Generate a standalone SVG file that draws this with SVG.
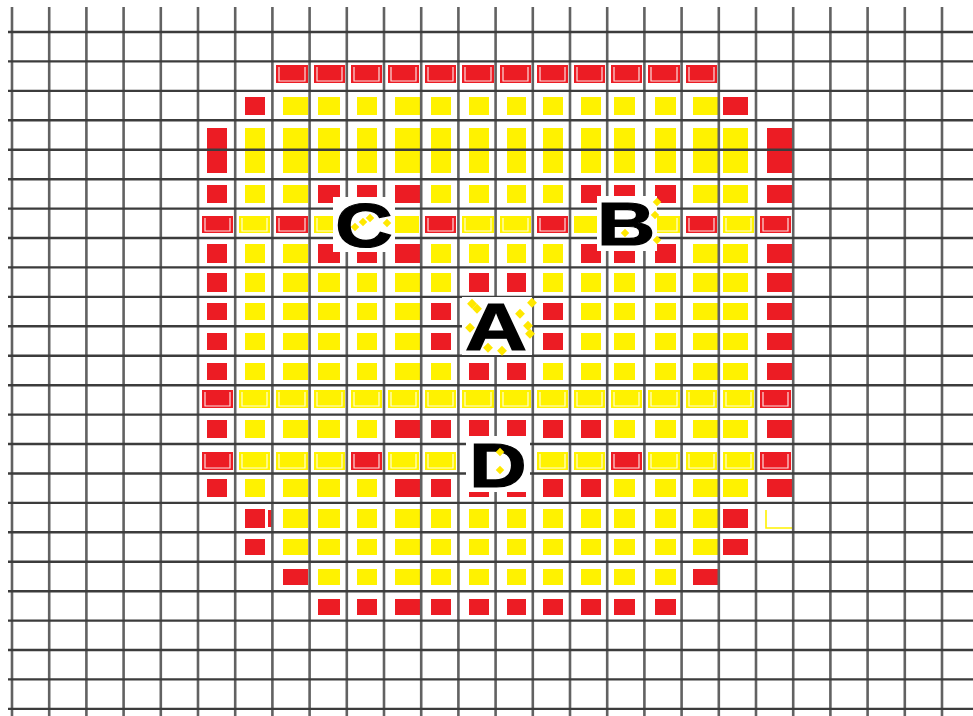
<svg xmlns="http://www.w3.org/2000/svg" width="973" height="716" viewBox="0 0 973 716">
<style>
.r{fill:#ec1c24}
.y{fill:#fff200}
.br{fill:none;stroke:#ffffff;stroke-width:1.2;opacity:0.85}
.gv{fill:none;stroke:#626262;stroke-width:2.6}
.gh{fill:none;stroke:#3c3c3c;stroke-width:2.4}
.lbl{font-family:"Liberation Sans",Arial,sans-serif;font-weight:bold;fill:#000;stroke:#000;stroke-width:1.2;text-anchor:middle}
.dm{fill:#ffe800}
</style>
<rect width="973" height="716" fill="#ffffff"/>
<g id="cells">
<g id="row1" transform="translate(0,65)">
<rect class="r" x="276" width="32" height="18"/><rect class="r" x="314" width="31" height="18"/><rect class="r" x="351" width="31" height="18"/><rect class="r" x="388" width="31" height="18"/><rect class="r" x="425" width="31" height="18"/><rect class="r" x="462" width="32" height="18"/><rect class="r" x="500" width="31" height="18"/><rect class="r" x="537" width="31" height="18"/><rect class="r" x="574" width="31" height="18"/><rect class="r" x="611" width="31" height="18"/><rect class="r" x="648" width="32" height="18"/><rect class="r" x="686" width="31" height="18"/>
<path class="br" d="M279,2V16H305V2M317,2V16H342V2M354,2V16H379V2M391,2V16H416V2M428,2V16H453V2M465,2V16H491V2M503,2V16H528V2M540,2V16H565V2M577,2V16H602V2M614,2V16H639V2M651,2V16H677V2M689,2V16H714V2"/>
</g>
<g id="row2" transform="translate(0,97)">
<rect class="r" x="245" width="20" height="18"/><rect class="y" x="283" width="25" height="18"/><rect class="y" x="318" width="22" height="18"/><rect class="y" x="357" width="20" height="18"/><rect class="y" x="395" width="25" height="18"/><rect class="y" x="431" width="20" height="18"/><rect class="y" x="469" width="20" height="18"/><rect class="y" x="507" width="19" height="18"/><rect class="y" x="543" width="20" height="18"/><rect class="y" x="581" width="20" height="18"/><rect class="y" x="614" width="21" height="18"/><rect class="y" x="655" width="21" height="18"/><rect class="y" x="693" width="25" height="18"/><rect class="r" x="723" width="25" height="18"/>
</g>
<g id="row3" transform="translate(0,128)">
<rect class="r" x="207" width="20" height="45"/><rect class="y" x="245" width="20" height="45"/><rect class="y" x="283" width="25" height="45"/><rect class="y" x="318" width="22" height="45"/><rect class="y" x="357" width="20" height="45"/><rect class="y" x="395" width="25" height="45"/><rect class="y" x="431" width="20" height="45"/><rect class="y" x="469" width="20" height="45"/><rect class="y" x="507" width="19" height="45"/><rect class="y" x="543" width="20" height="45"/><rect class="y" x="581" width="20" height="45"/><rect class="y" x="614" width="21" height="45"/><rect class="y" x="655" width="21" height="45"/><rect class="y" x="693" width="25" height="45"/><rect class="y" x="723" width="25" height="45"/><rect class="r" x="767" width="25" height="45"/>
</g>
<g id="row5" transform="translate(0,185)">
<rect class="r" x="207" width="20" height="18"/><rect class="y" x="245" width="20" height="18"/><rect class="y" x="283" width="25" height="18"/><rect class="r" x="318" width="22" height="18"/><rect class="r" x="357" width="20" height="18"/><rect class="r" x="395" width="25" height="18"/><rect class="y" x="431" width="20" height="18"/><rect class="y" x="469" width="20" height="18"/><rect class="y" x="507" width="19" height="18"/><rect class="y" x="543" width="20" height="18"/><rect class="r" x="581" width="20" height="18"/><rect class="r" x="614" width="21" height="18"/><rect class="r" x="655" width="21" height="18"/><rect class="y" x="693" width="25" height="18"/><rect class="y" x="723" width="25" height="18"/><rect class="r" x="767" width="25" height="18"/>
</g>
<g id="row6" transform="translate(0,216)">
<rect class="r" x="202" width="31" height="17"/><rect class="y" x="239" width="31" height="17"/><rect class="r" x="276" width="32" height="17"/><rect class="y" x="314" width="31" height="17"/><rect class="y" x="351" width="31" height="17"/><rect class="y" x="388" width="31" height="17"/><rect class="r" x="425" width="31" height="17"/><rect class="y" x="462" width="32" height="17"/><rect class="y" x="500" width="31" height="17"/><rect class="r" x="537" width="31" height="17"/><rect class="y" x="574" width="31" height="17"/><rect class="y" x="611" width="31" height="17"/><rect class="y" x="648" width="32" height="17"/><rect class="r" x="686" width="31" height="17"/><rect class="y" x="723" width="31" height="17"/><rect class="r" x="760" width="31" height="17"/>
<path class="br" d="M205,2V15H230V2M242,2V15H267V2M279,2V15H305V2M317,2V15H342V2M428,2V15H453V2M465,2V15H491V2M503,2V15H528V2M540,2V15H565V2M651,2V15H677V2M689,2V15H714V2M726,2V15H751V2M763,2V15H788V2"/>
</g>
<g id="row7" transform="translate(0,244)">
<rect class="r" x="207" width="20" height="19"/><rect class="y" x="245" width="20" height="19"/><rect class="y" x="283" width="25" height="19"/><rect class="r" x="318" width="22" height="19"/><rect class="r" x="357" width="20" height="19"/><rect class="r" x="395" width="25" height="19"/><rect class="y" x="431" width="20" height="19"/><rect class="y" x="469" width="20" height="19"/><rect class="y" x="507" width="19" height="19"/><rect class="y" x="543" width="20" height="19"/><rect class="r" x="581" width="20" height="19"/><rect class="r" x="614" width="21" height="19"/><rect class="r" x="655" width="21" height="19"/><rect class="y" x="693" width="25" height="19"/><rect class="y" x="723" width="25" height="19"/><rect class="r" x="767" width="25" height="19"/>
</g>
<g id="row8" transform="translate(0,273)">
<rect class="r" x="207" width="20" height="19"/><rect class="y" x="245" width="20" height="19"/><rect class="y" x="283" width="25" height="19"/><rect class="y" x="318" width="22" height="19"/><rect class="y" x="357" width="20" height="19"/><rect class="y" x="395" width="25" height="19"/><rect class="y" x="431" width="20" height="19"/><rect class="r" x="469" width="20" height="19"/><rect class="r" x="507" width="19" height="19"/><rect class="y" x="543" width="20" height="19"/><rect class="y" x="581" width="20" height="19"/><rect class="y" x="614" width="21" height="19"/><rect class="y" x="655" width="21" height="19"/><rect class="y" x="693" width="25" height="19"/><rect class="y" x="723" width="25" height="19"/><rect class="r" x="767" width="25" height="19"/>
</g>
<g id="row9" transform="translate(0,303)">
<rect class="r" x="207" width="20" height="17"/><rect class="y" x="245" width="20" height="17"/><rect class="y" x="283" width="25" height="17"/><rect class="y" x="318" width="22" height="17"/><rect class="y" x="357" width="20" height="17"/><rect class="y" x="395" width="25" height="17"/><rect class="r" x="431" width="20" height="17"/><rect class="r" x="543" width="20" height="17"/><rect class="y" x="581" width="20" height="17"/><rect class="y" x="614" width="21" height="17"/><rect class="y" x="655" width="21" height="17"/><rect class="y" x="693" width="25" height="17"/><rect class="y" x="723" width="25" height="17"/><rect class="r" x="767" width="25" height="17"/>
</g>
<g id="row10" transform="translate(0,333)">
<rect class="r" x="207" width="20" height="17"/><rect class="y" x="245" width="20" height="17"/><rect class="y" x="283" width="25" height="17"/><rect class="y" x="318" width="22" height="17"/><rect class="y" x="357" width="20" height="17"/><rect class="y" x="395" width="25" height="17"/><rect class="r" x="431" width="20" height="17"/><rect class="r" x="543" width="20" height="17"/><rect class="y" x="581" width="20" height="17"/><rect class="y" x="614" width="21" height="17"/><rect class="y" x="655" width="21" height="17"/><rect class="y" x="693" width="25" height="17"/><rect class="y" x="723" width="25" height="17"/><rect class="r" x="767" width="25" height="17"/>
</g>
<g id="row11" transform="translate(0,363)">
<rect class="r" x="207" width="20" height="17"/><rect class="y" x="245" width="20" height="17"/><rect class="y" x="283" width="25" height="17"/><rect class="y" x="318" width="22" height="17"/><rect class="y" x="357" width="20" height="17"/><rect class="y" x="395" width="25" height="17"/><rect class="y" x="431" width="20" height="17"/><rect class="r" x="469" width="20" height="17"/><rect class="r" x="507" width="19" height="17"/><rect class="y" x="543" width="20" height="17"/><rect class="y" x="581" width="20" height="17"/><rect class="y" x="614" width="21" height="17"/><rect class="y" x="655" width="21" height="17"/><rect class="y" x="693" width="25" height="17"/><rect class="y" x="723" width="25" height="17"/><rect class="r" x="767" width="25" height="17"/>
</g>
<g id="row12" transform="translate(0,390)">
<rect class="r" x="202" width="31" height="18"/><rect class="y" x="239" width="31" height="18"/><rect class="y" x="276" width="32" height="18"/><rect class="y" x="314" width="31" height="18"/><rect class="y" x="351" width="31" height="18"/><rect class="y" x="388" width="31" height="18"/><rect class="y" x="425" width="31" height="18"/><rect class="y" x="462" width="32" height="18"/><rect class="y" x="500" width="31" height="18"/><rect class="y" x="537" width="31" height="18"/><rect class="y" x="574" width="31" height="18"/><rect class="y" x="611" width="31" height="18"/><rect class="y" x="648" width="32" height="18"/><rect class="y" x="686" width="31" height="18"/><rect class="y" x="723" width="31" height="18"/><rect class="r" x="760" width="31" height="18"/>
<path class="br" d="M205,2V16H230V2M242,2V16H267V2M279,2V16H305V2M317,2V16H342V2M354,2V16H379V2M391,2V16H416V2M428,2V16H453V2M465,2V16H491V2M503,2V16H528V2M540,2V16H565V2M577,2V16H602V2M614,2V16H639V2M651,2V16H677V2M689,2V16H714V2M726,2V16H751V2M763,2V16H788V2"/>
</g>
<g id="row13" transform="translate(0,420)">
<rect class="r" x="207" width="20" height="18"/><rect class="y" x="245" width="20" height="18"/><rect class="y" x="283" width="25" height="18"/><rect class="y" x="318" width="22" height="18"/><rect class="y" x="357" width="20" height="18"/><rect class="r" x="395" width="25" height="18"/><rect class="r" x="431" width="20" height="18"/><rect class="r" x="469" width="20" height="18"/><rect class="r" x="507" width="19" height="18"/><rect class="r" x="543" width="20" height="18"/><rect class="r" x="581" width="20" height="18"/><rect class="y" x="614" width="21" height="18"/><rect class="y" x="655" width="21" height="18"/><rect class="y" x="693" width="25" height="18"/><rect class="y" x="723" width="25" height="18"/><rect class="r" x="767" width="25" height="18"/>
</g>
<g id="row14" transform="translate(0,452)">
<rect class="r" x="202" width="31" height="18"/><rect class="y" x="239" width="31" height="18"/><rect class="y" x="276" width="32" height="18"/><rect class="y" x="314" width="31" height="18"/><rect class="r" x="351" width="31" height="18"/><rect class="y" x="388" width="31" height="18"/><rect class="y" x="425" width="31" height="18"/><rect class="y" x="537" width="31" height="18"/><rect class="y" x="574" width="31" height="18"/><rect class="r" x="611" width="31" height="18"/><rect class="y" x="648" width="32" height="18"/><rect class="y" x="686" width="31" height="18"/><rect class="y" x="723" width="31" height="18"/><rect class="r" x="760" width="31" height="18"/>
<path class="br" d="M205,2V16H230V2M242,2V16H267V2M279,2V16H305V2M317,2V16H342V2M354,2V16H379V2M391,2V16H416V2M428,2V16H453V2M540,2V16H565V2M577,2V16H602V2M614,2V16H639V2M651,2V16H677V2M689,2V16H714V2M726,2V16H751V2M763,2V16H788V2"/>
</g>
<g id="row15" transform="translate(0,479)">
<rect class="r" x="207" width="20" height="18"/><rect class="y" x="245" width="20" height="18"/><rect class="y" x="283" width="25" height="18"/><rect class="y" x="318" width="22" height="18"/><rect class="y" x="357" width="20" height="18"/><rect class="r" x="395" width="25" height="18"/><rect class="r" x="431" width="20" height="18"/><rect class="r" x="469" width="20" height="18"/><rect class="r" x="507" width="19" height="18"/><rect class="r" x="543" width="20" height="18"/><rect class="r" x="581" width="20" height="18"/><rect class="y" x="614" width="21" height="18"/><rect class="y" x="655" width="21" height="18"/><rect class="y" x="693" width="25" height="18"/><rect class="y" x="723" width="25" height="18"/><rect class="r" x="767" width="25" height="18"/>
</g>
<g id="row16" transform="translate(0,509)">
<rect class="r" x="245" width="20" height="19"/><rect class="r" x="268" y="1" width="5" height="17"/><rect class="y" x="283" width="25" height="19"/><rect class="y" x="318" width="22" height="19"/><rect class="y" x="357" width="20" height="19"/><rect class="y" x="395" width="25" height="19"/><rect class="y" x="431" width="20" height="19"/><rect class="y" x="469" width="20" height="19"/><rect class="y" x="507" width="19" height="19"/><rect class="y" x="543" width="20" height="19"/><rect class="y" x="581" width="20" height="19"/><rect class="y" x="614" width="21" height="19"/><rect class="y" x="655" width="21" height="19"/><rect class="y" x="693" width="25" height="19"/><rect class="r" x="723" width="25" height="19"/>
<path d="M766,1V19H792" fill="none" stroke="#fff200" stroke-width="1.6"/>
</g>
<g id="row17" transform="translate(0,539)">
<rect class="r" x="245" width="20" height="16"/><rect class="y" x="283" width="25" height="16"/><rect class="y" x="318" width="22" height="16"/><rect class="y" x="357" width="20" height="16"/><rect class="y" x="395" width="25" height="16"/><rect class="y" x="431" width="20" height="16"/><rect class="y" x="469" width="20" height="16"/><rect class="y" x="507" width="19" height="16"/><rect class="y" x="543" width="20" height="16"/><rect class="y" x="581" width="20" height="16"/><rect class="y" x="614" width="21" height="16"/><rect class="y" x="655" width="21" height="16"/><rect class="y" x="693" width="25" height="16"/><rect class="r" x="723" width="25" height="16"/>
</g>
<g id="row18" transform="translate(0,569)">
<rect class="r" x="283" width="25" height="16"/><rect class="y" x="318" width="22" height="16"/><rect class="y" x="357" width="20" height="16"/><rect class="y" x="395" width="25" height="16"/><rect class="y" x="431" width="20" height="16"/><rect class="y" x="469" width="20" height="16"/><rect class="y" x="507" width="19" height="16"/><rect class="y" x="543" width="20" height="16"/><rect class="y" x="581" width="20" height="16"/><rect class="y" x="614" width="21" height="16"/><rect class="y" x="655" width="21" height="16"/><rect class="r" x="693" width="25" height="16"/>
</g>
<g id="row19" transform="translate(0,599)">
<rect class="r" x="318" width="22" height="16"/><rect class="r" x="357" width="20" height="16"/><rect class="r" x="395" width="25" height="16"/><rect class="r" x="431" width="20" height="16"/><rect class="r" x="469" width="20" height="16"/><rect class="r" x="507" width="19" height="16"/><rect class="r" x="543" width="20" height="16"/><rect class="r" x="581" width="20" height="16"/><rect class="r" x="614" width="21" height="16"/><rect class="r" x="655" width="21" height="16"/>
</g>
</g>
<g id="grid">
<path class="gv" d="M12,7V716M49.2,7V716M86.4,7V716M123.6,7V716M160.8,7V716M198,7V716M235.2,7V716M272.4,7V716M309.6,7V716M346.8,7V716M384,7V716M421.2,7V716M458.4,7V716M495.6,7V716M532.8,7V716M570,7V716M607.2,7V716M644.4,7V716M681.6,7V716M718.8,7V716M756,7V716M793.2,7V716M830.4,7V716M867.6,7V716M904.8,7V716M942,7V716"/>
<path class="gh" d="M8,32H973M8,61.4H973M8,90.9H973M8,120.3H973M8,149.7H973M8,179.2H973M8,208.6H973M8,238H973M8,267.4H973M8,296.9H973M8,326.3H973M8,355.7H973M8,385.2H973M8,414.6H973M8,444H973M8,473.5H973M8,502.9H973M8,532.3H973M8,561.7H973M8,591.2H973M8,620.6H973M8,650H973M8,679.4H973M8,708.9H973"/>
</g>
<g id="label-C">
<rect x="333" y="197" width="62" height="55" fill="#ffffff"/>
<text class="lbl" font-size="62" transform="translate(364,247) scale(1.28,1)">C</text>
<rect class="dm" x="352" y="224" width="6" height="6" transform="rotate(45 355 227)"/>
<rect class="dm" x="360" y="219" width="6" height="6" transform="rotate(45 363 222)"/>
<rect class="dm" x="367" y="215" width="6" height="6" transform="rotate(45 370 218)"/>
<rect class="dm" x="384" y="220" width="6" height="6" transform="rotate(45 387 223)"/>
</g>
<g id="label-B">
<rect x="597" y="196" width="60" height="55" fill="#ffffff"/>
<text class="lbl" font-size="62" transform="translate(626,245) scale(1.3,1)">B</text>
<rect class="dm" x="654" y="199" width="6" height="6" transform="rotate(45 657 202)"/>
<rect class="dm" x="652" y="212" width="6" height="6" transform="rotate(45 655 215)"/>
<rect class="dm" x="622" y="230" width="6" height="6" transform="rotate(45 625 233)"/>
<rect class="dm" x="654" y="237" width="6" height="6" transform="rotate(45 657 240)"/>
</g>
<g id="label-A">
<rect x="462" y="297" width="70" height="58" fill="#ffffff"/>
<rect class="dm" x="469" y="300" width="7" height="7" transform="rotate(45 472 303)"/>
<rect class="dm" x="474" y="305" width="7" height="7" transform="rotate(45 477 308)"/>
<rect class="dm" x="467" y="324" width="7" height="7" transform="rotate(45 470 327)"/>
<rect class="dm" x="529" y="299" width="7" height="7" transform="rotate(45 532 302)"/>
<rect class="dm" x="517" y="310" width="7" height="7" transform="rotate(45 520 313)"/>
<rect class="dm" x="525" y="322" width="7" height="7" transform="rotate(45 528 325)"/>
<rect class="dm" x="527" y="330" width="7" height="7" transform="rotate(45 530 333)"/>
<rect class="dm" x="485" y="344" width="7" height="7" transform="rotate(45 488 347)"/>
<rect class="dm" x="499" y="347" width="7" height="7" transform="rotate(45 502 350)"/>
<text class="lbl" font-size="66" transform="translate(496,350) scale(1.3,1)">A</text>
</g>
<g id="label-D">
<rect x="466" y="436" width="64" height="56" fill="#ffffff"/>
<text class="lbl" font-size="62" transform="translate(498,487) scale(1.28,1)">D</text>
<rect class="dm" x="497" y="449" width="6" height="6" transform="rotate(45 500 452)"/>
<rect class="dm" x="497" y="467" width="6" height="6" transform="rotate(45 500 470)"/>
</g>
</svg>
